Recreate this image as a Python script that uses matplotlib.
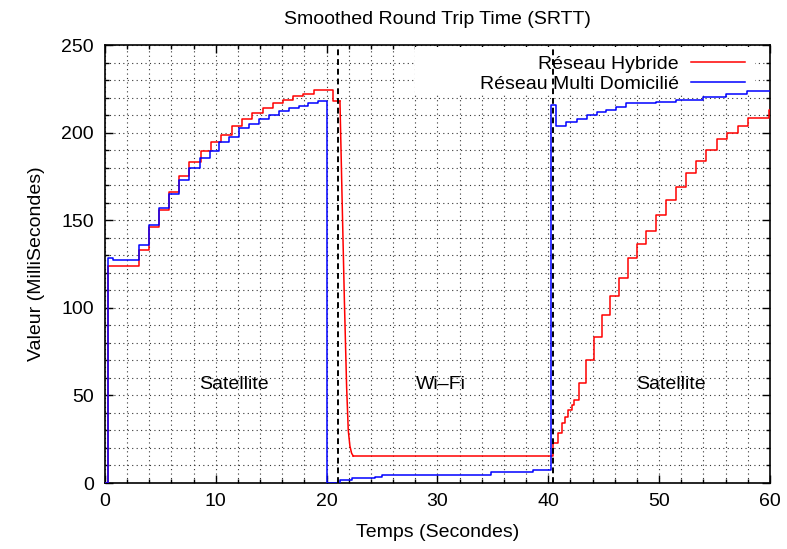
import matplotlib
matplotlib.use("Agg")
import matplotlib.pyplot as plt
from matplotlib.ticker import MultipleLocator
from matplotlib.patches import Rectangle

plt.rcParams['font.family'] = ['Liberation Sans', 'DejaVu Sans']
plt.rcParams['font.size'] = 14

# Réseau Hybride (rouge) - paliers, phase satellite 1
red_t1 = [0.0, 0.3, 3.1, 4.0, 4.9, 5.8, 6.7, 7.6, 8.7, 9.6, 10.5, 11.5, 12.4,
          13.3, 14.3, 15.2, 16.1, 17.0, 17.9, 18.9, 20.6, 21.2]
red_v1 = [0, 124, 133, 146, 156, 166, 175, 183, 189.7, 194.8, 198.6, 203.8, 207.6,
          211, 213.9, 217, 218.9, 220.9, 222.2, 224.1, 218, 218]

# descente vers le Wi-Fi
red_decay_t = [21.2, 21.4, 21.6, 21.8, 21.95, 22.1, 22.25, 22.4]
red_decay_v = [218, 160, 104, 55, 30, 21, 17, 15.4]

# paliers, Wi-Fi puis satellite 2
red_t2 = [22.4, 40.45, 40.9, 41.2, 41.5, 41.8, 42.1, 42.3, 42.8, 43.4, 44.1, 44.8,
          45.6, 46.4, 47.2, 48.0, 48.8, 49.7, 50.6, 51.5, 52.4, 53.3, 54.2, 55.2,
          56.1, 57.1, 58.0, 59.9, 60.0]
red_v2 = [15.4, 22.6, 28.3, 34.1, 37.8, 41.7, 44.5, 47.4, 57.2, 70.2, 83.2, 95.9,
          106.9, 117.2, 128.3, 136.2, 144.0, 153.0, 161.5, 169.1, 177.1, 184.0, 190.1, 196.1,
          199.9, 203.8, 208.2, 212.9, 212.9]

# Réseau Multi Domicilié (bleu)
blue_t = [0.0, 0.3, 0.7, 3.1, 4.0, 4.9, 5.8, 6.7, 7.6, 8.6, 9.5, 10.3, 11.2, 12.1,
          13.0, 13.9, 14.8, 15.7, 16.6, 17.5, 18.3, 19.2, 20.0, 21.2, 22.3, 24.4,
          25.0, 34.8, 38.6, 40.2, 40.7, 41.6, 42.6, 43.5, 44.4, 45.2, 46.1, 47.0,
          49.7, 51.5, 54.0, 56.0, 57.9, 60.0]
blue_v = [0, 128.4, 127.3, 136, 147, 157, 165, 173, 180, 185.3, 189.7, 194.8, 197.7, 202.4,
          204.9, 208, 209.9, 212.3, 213.9, 215, 216.7, 218, 0, 1.7, 2.7, 3.6,
          4.6, 6.5, 7.4, 216, 204, 205.9, 207.8, 209.9, 211.7, 212.9, 214.8, 216.7,
          217.5, 218.8, 220.5, 221.8, 223.7, 223.7]

handover_times = [21.0, 40.45]
phase_labels = ['Satellite', 'Wi–Fi', 'Satellite']
phase_x = [11.6, 30.3, 51.1]
phase_y = 56

fig = plt.figure(figsize=(7.87, 5.49), dpi=100)
ax = fig.add_axes([0.1334, 0.1202, 0.845, 0.7978])

ax.plot(red_t1, red_v1, color='red', lw=1.1, drawstyle='steps-post', zorder=3,
        label='Réseau Hybride')
ax.plot(red_decay_t, red_decay_v, color='red', lw=1.1, zorder=3)
ax.plot(red_t2, red_v2, color='red', lw=1.1, drawstyle='steps-post', zorder=3)
ax.plot(blue_t, blue_v, color='blue', lw=1.1, drawstyle='steps-post', zorder=3,
        label='Réseau Multi Domicilié')

for t in handover_times:
    ax.axvline(t, color='black', lw=1.4, ls=(0, (3, 2)), zorder=4)

for lab, x in zip(phase_labels, phase_x):
    ax.text(x, phase_y, lab, ha='center', va='center', fontsize=14, zorder=5)

ax.set_xlim(0, 60)
ax.set_ylim(0, 250)
ax.xaxis.set_major_locator(MultipleLocator(10))
ax.xaxis.set_minor_locator(MultipleLocator(2))
ax.yaxis.set_major_locator(MultipleLocator(50))
ax.yaxis.set_minor_locator(MultipleLocator(10))
ax.tick_params(which='both', direction='in', top=True, right=True, width=1)
ax.tick_params(which='major', length=6)
ax.tick_params(which='minor', length=3)
ax.tick_params(axis='x', pad=7)
ax.tick_params(axis='y', pad=8)
for s in ax.spines.values():
    s.set_linewidth(1.2)

ax.set_axisbelow(True)
ax.grid(which='both', color='0.2', ls=(0, (1, 3)), lw=0.8)

# fond blanc de la légende (cache la grille)
ax.add_patch(Rectangle((0.466, 0.890), 0.511, 0.105, transform=ax.transAxes,
                       facecolor='white', edgecolor='none', zorder=1))

ax.legend(loc='upper right', bbox_to_anchor=(0.9624, 0.977), frameon=False,
          markerfirst=False, handlelength=2.8, handletextpad=0.6,
          labelspacing=0.15, borderpad=0, borderaxespad=0, fontsize=14)

ax.set_title('Smoothed Round Trip Time (SRTT)', fontsize=14, pad=15)
ax.set_xlabel('Temps (Secondes)', fontsize=14, labelpad=10)
ax.set_ylabel('Valeur (MilliSecondes)', fontsize=14, labelpad=12)

fig.savefig('out.png', dpi=100)
